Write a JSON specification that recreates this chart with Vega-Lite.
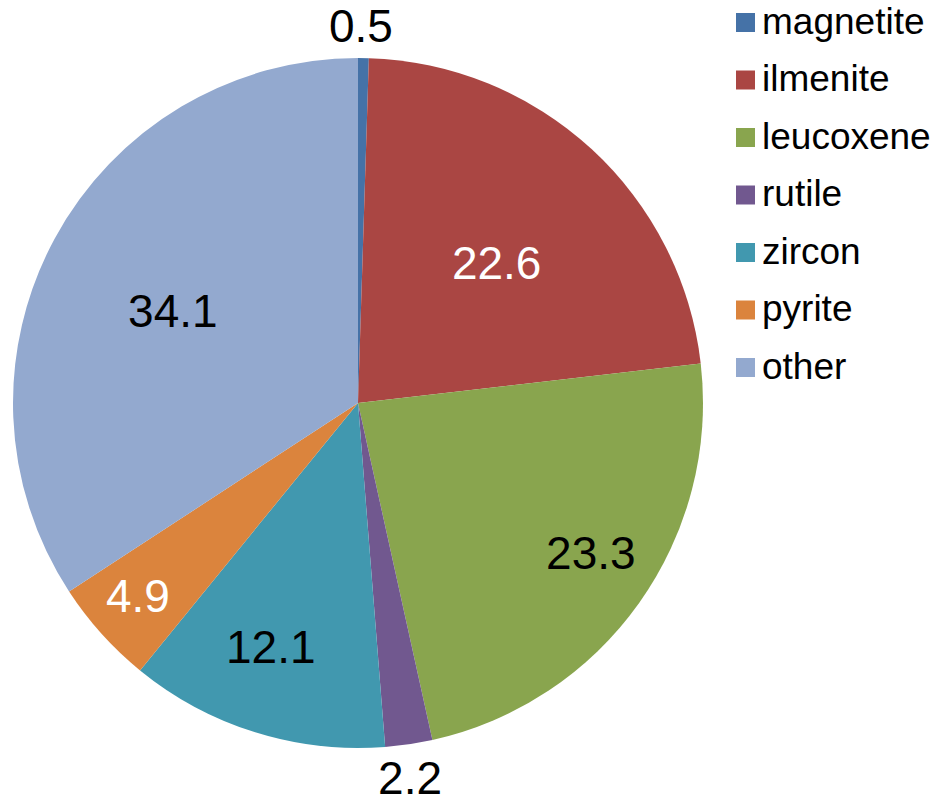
{
  "$schema": "https://vega.github.io/schema/vega-lite/v6.json",
  "width": 716,
  "height": 790,
  "padding": {"left": 0, "top": 8, "right": 221, "bottom": 2},
  "autosize": {"type": "none"},
  "config": {"view": {"stroke": null}, "font": "Liberation Sans"},
  "data": {
    "values": [
      {"mineral": "magnetite", "value": 0.5, "order": 1},
      {"mineral": "ilmenite", "value": 22.6, "order": 2},
      {"mineral": "leucoxene", "value": 23.3, "order": 3},
      {"mineral": "rutile", "value": 2.2, "order": 4},
      {"mineral": "zircon", "value": 12.1, "order": 5},
      {"mineral": "pyrite", "value": 4.9, "order": 6},
      {"mineral": "other", "value": 34.1, "order": 7}
    ]
  },
  "encoding": {
    "theta": {"field": "value", "type": "quantitative", "stack": true},
    "order": {"field": "order", "type": "quantitative"}
  },
  "layer": [
    {
      "mark": {"type": "arc", "radius": 345},
      "encoding": {
        "color": {
          "field": "mineral",
          "type": "nominal",
          "sort": ["magnetite", "ilmenite", "leucoxene", "rutile", "zircon", "pyrite", "other"],
          "scale": {
            "domain": ["magnetite", "ilmenite", "leucoxene", "rutile", "zircon", "pyrite", "other"],
            "range": ["#4572A7", "#AA4643", "#89A54E", "#71588F", "#4198AF", "#DB843D", "#93A9CF"]
          },
          "legend": {
            "title": null,
            "orient": "none",
            "legendX": 727,
            "legendY": -4,
            "symbolType": "square",
            "symbolSize": 361,
            "symbolStrokeWidth": 0,
            "symbolOpacity": 1,
            "labelFontSize": 37,
            "labelColor": "#000000",
            "labelOffset": -2,
            "rowPadding": 19.5,
            "labelLimit": 400
          }
        }
      }
    },
    {
      "mark": {"type": "text", "radius": 375, "dx": -3, "dy": 0, "fontSize": 46, "fill": "#000000", "align": "center", "baseline": "middle"},
      "encoding": {"text": {"condition": {"test": "datum.mineral === 'magnetite'", "field": "value", "format": ".1f"}, "value": ""}}
    },
    {
      "mark": {"type": "text", "radius": 196, "dx": 6, "dy": 6, "fontSize": 46, "fill": "#ffffff", "align": "center", "baseline": "middle"},
      "encoding": {"text": {"condition": {"test": "datum.mineral === 'ilmenite'", "field": "value", "format": ".1f"}, "value": ""}}
    },
    {
      "mark": {"type": "text", "radius": 278, "dx": 6.5, "dy": -9.5, "fontSize": 46, "fill": "#000000", "align": "center", "baseline": "middle"},
      "encoding": {"text": {"condition": {"test": "datum.mineral === 'leucoxene'", "field": "value", "format": ".1f"}, "value": ""}}
    },
    {
      "mark": {"type": "text", "radius": 380, "dx": -4, "dy": 1, "fontSize": 46, "fill": "#000000", "align": "center", "baseline": "middle"},
      "encoding": {"text": {"condition": {"test": "datum.mineral === 'rutile'", "field": "value", "format": ".1f"}, "value": ""}}
    },
    {
      "mark": {"type": "text", "radius": 261, "dx": -9.5, "dy": -3, "fontSize": 46, "fill": "#000000", "align": "center", "baseline": "middle"},
      "encoding": {"text": {"condition": {"test": "datum.mineral === 'zircon'", "field": "value", "format": ".1f"}, "value": ""}}
    },
    {
      "mark": {"type": "text", "radius": 294, "dx": -1.5, "dy": -1.5, "fontSize": 46, "fill": "#ffffff", "align": "center", "baseline": "middle"},
      "encoding": {"text": {"condition": {"test": "datum.mineral === 'pyrite'", "field": "value", "format": ".1f"}, "value": ""}}
    },
    {
      "mark": {"type": "text", "radius": 206, "dx": -4, "dy": 8, "fontSize": 46, "fill": "#000000", "align": "center", "baseline": "middle"},
      "encoding": {"text": {"condition": {"test": "datum.mineral === 'other'", "field": "value", "format": ".1f"}, "value": ""}}
    }
  ]
}
